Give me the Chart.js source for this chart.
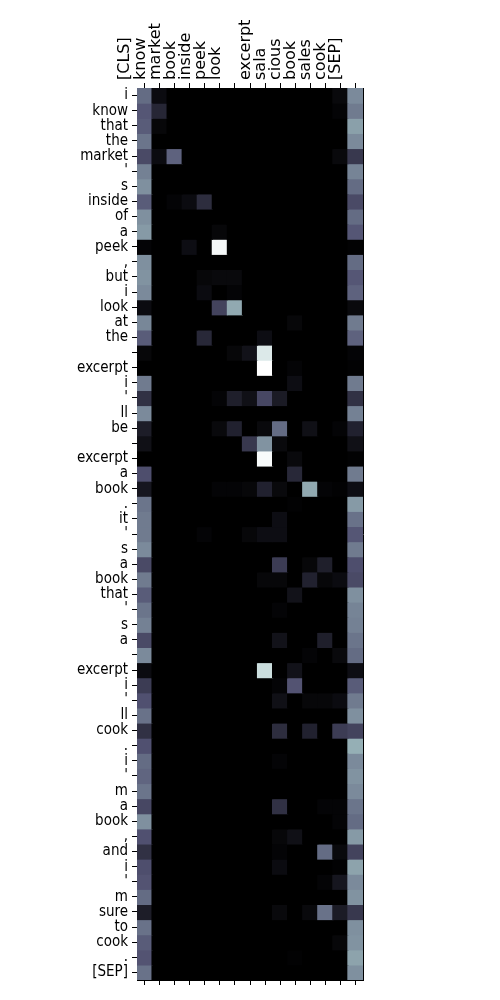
<!DOCTYPE html>
<html><head><meta charset="utf-8">
<script src="https://cdn.jsdelivr.net/npm/chart.js@4"></script>
<style>html,body{margin:0;padding:0;background:#fff}#wrap{width:500px;height:1000px;position:relative}</style>
</head><body><div id="wrap"><canvas id="c" width="500" height="1000"></canvas></div>
<script>
const colLabels = ["[CLS]","know","market","book","inside","peek","look","","excerpt","sala","cious","book","sales","cook","[SEP]"];
const rowLabels = ["i","know","that","the","market","'","s","inside","of","a","peek",",","but","i","look","at","the","","excerpt","i","'","ll","be","","excerpt","a","book",".","it","'","s","a","book","that","'","s","a","","excerpt","i","'","ll","cook",".","i","'","m","a","book",",","and","i","'","m","sure","to","cook",".","[SEP]"];
const weights = [
[0.45,0.05,0,0,0,0,0,0,0,0,0,0,0,0.04,0.55],
[0.38,0.17,0,0,0,0,0,0,0,0,0,0,0,0.02,0.50],
[0.40,0.03,0,0,0,0,0,0,0,0,0,0,0,0,0.62],
[0.48,0,0,0,0,0,0,0,0,0,0,0,0,0,0.55],
[0.33,0.05,0.42,0,0,0,0,0,0,0,0,0,0,0.04,0.25],
[0.52,0,0,0,0,0,0,0,0,0,0,0,0,0,0.53],
[0.57,0,0,0,0,0,0,0,0,0,0,0,0,0,0.45],
[0.40,0,0.02,0.05,0.20,0,0,0,0,0,0,0,0,0,0.33],
[0.57,0,0,0,0,0,0,0,0,0,0,0,0,0,0.45],
[0.60,0,0,0,0,0.03,0,0,0,0,0,0,0,0,0.38],
[0.02,0,0,0.06,0,0.97,0,0,0,0,0,0,0,0,0.01],
[0.57,0,0,0,0,0,0,0,0,0,0,0,0,0,0.45],
[0.58,0,0,0,0.03,0.04,0.04,0,0,0,0,0,0,0,0.38],
[0.55,0,0,0,0.05,0,0.02,0,0,0,0,0,0,0,0.42],
[0.05,0,0,0,0,0.30,0.65,0,0,0,0,0,0,0,0.04],
[0.54,0,0,0,0,0,0,0,0,0,0.03,0,0,0,0.50],
[0.40,0,0,0,0.18,0,0,0,0.06,0,0,0,0,0,0.42],
[0.03,0,0,0,0,0,0.03,0.08,0.90,0,0,0,0,0,0.02],
[0,0,0,0,0,0,0,0,1.00,0,0.02,0,0,0,0.01],
[0.50,0,0,0,0,0,0,0,0,0,0.06,0,0,0,0.50],
[0.22,0,0,0,0,0.02,0.14,0.07,0.32,0.12,0,0,0,0,0.22],
[0.55,0,0,0,0,0,0,0,0,0,0,0,0,0,0.52],
[0.13,0,0,0,0,0.04,0.15,0,0.04,0.45,0,0.07,0,0.02,0.15],
[0.07,0,0,0,0,0,0,0.25,0.58,0.04,0,0,0,0,0.07],
[0,0,0,0,0,0,0,0,0.98,0,0.04,0,0,0,0.01],
[0.35,0,0,0,0,0,0,0,0,0,0.18,0,0,0,0.50],
[0.10,0,0,0,0,0.02,0.02,0.03,0.15,0.04,0,0.65,0.02,0.01,0.06],
[0.48,0,0,0,0,0,0,0,0,0,0.01,0,0,0,0.60],
[0.50,0,0,0,0,0,0,0,0,0.06,0,0,0,0,0.47],
[0.50,0,0,0,0.02,0,0,0.03,0.06,0.06,0,0,0,0,0.38],
[0.55,0,0,0,0,0,0,0,0,0,0,0,0,0,0.50],
[0.33,0,0,0,0,0,0,0,0,0.27,0,0.03,0.14,0,0.35],
[0.50,0,0,0,0,0,0,0,0.03,0.03,0,0.15,0.03,0.05,0.33],
[0.40,0,0,0,0,0,0,0,0,0,0.08,0,0,0,0.57],
[0.48,0,0,0,0,0,0,0,0,0.02,0,0,0,0,0.53],
[0.52,0,0,0,0,0,0,0,0,0,0,0,0,0,0.52],
[0.33,0,0,0,0,0,0,0,0,0.08,0,0,0.14,0,0.48],
[0.55,0,0,0,0,0,0,0,0,0,0,0.02,0,0.04,0.45],
[0.05,0,0,0,0,0,0,0,0.85,0,0.08,0,0,0,0.06],
[0.27,0,0,0,0,0,0,0,0,0.02,0.37,0,0,0,0.40],
[0.36,0,0,0,0,0,0,0,0,0.07,0,0.03,0.03,0.05,0.50],
[0.47,0,0,0,0,0,0,0,0,0,0,0,0,0,0.57],
[0.22,0,0,0,0,0,0,0,0,0.20,0,0.15,0,0.27,0.30],
[0.36,0,0,0,0,0,0,0,0,0,0,0,0,0,0.67],
[0.45,0,0,0,0,0,0,0,0,0.02,0,0,0,0,0.55],
[0.43,0,0,0,0,0,0,0,0,0,0,0,0,0,0.58],
[0.48,0,0,0,0,0,0,0,0,0,0,0,0,0,0.55],
[0.32,0,0,0,0,0,0,0,0,0.22,0,0,0.02,0.02,0.48],
[0.57,0,0,0,0,0,0,0,0,0,0,0,0,0.02,0.45],
[0.36,0,0,0,0,0,0,0,0,0.03,0.07,0,0,0,0.60],
[0.22,0,0,0,0,0,0,0,0,0.02,0,0,0.45,0.04,0.30],
[0.35,0,0,0,0,0,0,0,0,0.05,0,0,0,0.01,0.63],
[0.37,0,0,0,0,0,0,0,0,0,0,0,0.02,0.10,0.55],
[0.45,0,0,0,0,0,0,0,0,0,0,0,0,0,0.58],
[0.13,0,0,0,0,0,0,0,0,0.04,0,0.04,0.47,0.12,0.25],
[0.47,0,0,0,0,0,0,0,0,0,0,0,0,0,0.57],
[0.40,0,0,0,0,0,0,0,0,0,0,0,0,0.03,0.58],
[0.37,0,0,0,0,0,0,0,0,0,0.01,0,0,0,0.63],
[0.47,0,0,0,0,0,0,0,0,0,0,0,0,0,0.57]
];

// matplotlib "bone" colormap
function interp(v, pts){
  for(let i=1;i<pts.length;i++){
    if(v<=pts[i][0]){const a=pts[i-1],b=pts[i];return a[1]+(b[1]-a[1])*(v-a[0])/(b[0]-a[0]);}
  }
  return pts[pts.length-1][1];
}
function bone(v){
  v=Math.max(0,Math.min(1,v));
  const r=interp(v,[[0,0],[0.746032,0.652778],[1,1]]);
  const g=interp(v,[[0,0],[0.365079,0.319444],[0.746032,0.777778],[1,1]]);
  const b=interp(v,[[0,0],[0.365079,0.444444],[1,1]]);
  return `rgb(${Math.round(r*255)},${Math.round(g*255)},${Math.round(b*255)})`;
}
const vmax = Math.max(...weights.flat());
const datasets = rowLabels.map((lab,i)=>({
  label: lab,
  data: colLabels.map(()=>1),
  backgroundColor: weights[i].map(v=>bone(v/vmax)),
  borderWidth: 0,
  inflateAmount: 0.6,
  barPercentage: 1,
  categoryPercentage: 1,
  stack: 's'
}));
const XFONT = {family:'DejaVu Sans', size:16};
const YFONT = {family:'DejaVu Sans Condensed', size:15};
new Chart(document.getElementById('c'), {
  type:'bar',
  data:{labels: colLabels, datasets},
  options:{
    responsive:false, animation:false,
    layout:{padding:0},
    plugins:{legend:{display:false}, tooltip:{enabled:false}},
    scales:{
      x:{position:'top', stacked:true, offset:true,
         grid:{offset:false, drawOnChartArea:false, tickLength:5, color:'#000', tickWidth:1},
         border:{display:true, color:'#000', width:1},
         ticks:{autoSkip:false, minRotation:90, maxRotation:90, color:'#000', font:XFONT, padding:3},
         afterFit:(s)=>{s.height=88;}},
      x2:{type:'category', axis:'x', position:'bottom', offset:true, labels: colLabels,
         grid:{offset:false, drawOnChartArea:false, tickLength:5, color:'#000'},
         border:{display:true, color:'#000', width:1},
         ticks:{display:false},
         afterFit:(s)=>{s.height=20;}},
      y:{type:'linear', position:'left', stacked:true, reverse:true, min:0, max:rowLabels.length, bounds:'data',
         grid:{drawOnChartArea:false, tickLength:5, color:'#000'},
         border:{display:true, color:'#000', width:1},
         afterBuildTicks:(s)=>{s.ticks = rowLabels.map((_,i)=>({value:i+0.5}));},
         ticks:{autoSkip:false, color:'#000', font:YFONT, padding:4,
           callback:(v)=>rowLabels[Math.floor(v)]},
         afterFit:(s)=>{s.width=137;}},
      y2:{type:'linear', position:'right', grid:{display:false},
         border:{display:true, color:'#000', width:1},
         ticks:{display:false},
         afterFit:(s)=>{s.width=137;}}
    }
  }
});
</script></body></html>
